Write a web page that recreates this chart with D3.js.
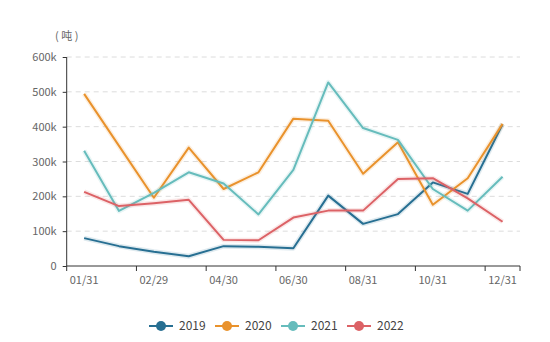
<!DOCTYPE html>
<html>
<head>
<meta charset="utf-8">
<script src="https://cdn.jsdelivr.net/npm/d3@7"></script>
<style>
  body { margin: 0; background: #fff; }
  text { font-family: "Noto Sans CJK SC", "Noto Sans", sans-serif; }
</style>
</head>
<body>
<div id="chart"></div>
<script>
const dates = ['01/31', '02/15', '02/29', '03/31', '04/30', '05/31', '06/30',
  '07/31', '08/31', '09/30', '10/31', '11/30', '12/31'];
const years = ['2019', '2020', '2021', '2022'];
const v2019 = [80, 57, 41, 28, 57, 55, 51, 202, 121, 149, 240, 207, 407];
const v2020 = [494, 345, 196, 340, 221, 269, 423, 417, 265, 355, 176, 252, 408];
const v2021 = [331, 158, 210, 269, 237, 148, 276, 527, 396, 362, 221, 159, 256];
const v2022 = [213, 172, 180, 190, 75, 74, 139, 159, 159, 250, 252, 194, 127];
const yTicks = [0, 100, 200, 300, 400, 500, 600];
const unitLabel = '( 吨 )';

const colors = ['#276f92', '#e9922c', '#66bcbc', '#dc6266'];
const series = [v2019, v2020, v2021, v2022];

const w = 550;
const h = 342;
const margin = { top: 57, right: 30, bottom: 76, left: 66.7 };
const graphWidth = w - margin.left - margin.right;
const graphHeight = h - margin.top - margin.bottom;

const svg = d3.select('#chart')
  .append('svg')
  .attr('width', w)
  .attr('height', h);

const graph = svg.append('g')
  .attr('transform', `translate(${margin.left}, ${margin.top})`);

// SCALES ----------------------

const xScale = d3.scaleBand()
  .domain(dates)
  .range([0, graphWidth]);

const yScale = d3.scaleLinear()
  .domain([0, 600])
  .range([graphHeight, 0]);

// GRID ------------------------

graph.append('g')
  .selectAll('line')
  .data(yTicks.filter(d => d > 0))
  .enter()
  .append('line')
  .attr('x1', 0)
  .attr('x2', graphWidth)
  .attr('y1', d => yScale(d))
  .attr('y2', d => yScale(d))
  .attr('stroke', '#dcdcdc')
  .attr('stroke-dasharray', '5,4');

// AXES ------------------------

const yAxis = d3.axisLeft(yScale)
  .tickValues(yTicks)
  .tickSize(4)
  .tickPadding(6)
  .tickFormat(d => (d === 0 ? '0' : d + 'k'));

const gYAxis = graph.append('g').call(yAxis);
gYAxis.select('.domain').attr('stroke', '#333').attr('d', `M0,${graphHeight}V0`);
gYAxis.selectAll('.tick line').attr('stroke', '#333');
gYAxis.selectAll('text').style('font-size', '11px').attr('fill', '#666');

const shown = dates.filter((d, i) => i % 2 === 0);
const gXAxis = graph.append('g')
  .attr('transform', `translate(0, ${graphHeight})`);

gXAxis.append('line')
  .attr('x1', 0)
  .attr('x2', graphWidth)
  .attr('stroke', '#333');

const tickPos = shown.map(d => xScale(d)).concat([graphWidth]);
gXAxis.selectAll('.xtick')
  .data(tickPos)
  .enter()
  .append('line')
  .attr('class', 'xtick')
  .attr('x1', d => d)
  .attr('x2', d => d)
  .attr('y1', 0)
  .attr('y2', 5)
  .attr('stroke', '#333');

gXAxis.selectAll('.xlabel')
  .data(shown)
  .enter()
  .append('text')
  .attr('class', 'xlabel')
  .attr('x', d => xScale(d) + xScale.bandwidth() / 2)
  .attr('y', 18)
  .attr('text-anchor', 'middle')
  .style('font-size', '11px')
  .attr('fill', '#666')
  .text(d => d);

// unit label
svg.append('text')
  .attr('x', margin.left)
  .attr('y', 40)
  .attr('text-anchor', 'middle')
  .style('font-size', '11px')
  .attr('fill', '#666')
  .text(unitLabel);

// LINES -----------------------

const line = d3.line()
  .x((d, i) => xScale(dates[i]) + xScale.bandwidth() / 2)
  .y(d => yScale(d));

series.forEach((s, k) => {
  graph.append('path')
    .datum(s)
    .attr('fill', 'none')
    .attr('stroke', colors[k])
    .attr('stroke-opacity', 0.15)
    .attr('stroke-width', 5)
    .attr('stroke-linejoin', 'round')
    .attr('d', line);
  graph.append('path')
    .datum(s)
    .attr('fill', 'none')
    .attr('stroke', colors[k])
    .attr('stroke-width', 2)
    .attr('stroke-linejoin', 'round')
    .attr('d', line);
});

// LEGEND ----------------------

const legendX = d3.scalePoint()
  .domain(years)
  .range([149, 347]);

const legend = svg.append('g')
  .attr('transform', 'translate(0, 326)');

const item = legend.selectAll('g')
  .data(years)
  .enter()
  .append('g')
  .attr('transform', d => `translate(${legendX(d)}, 0)`);

item.append('line')
  .attr('x1', 0)
  .attr('x2', 24)
  .attr('stroke', (d, i) => colors[i])
  .attr('stroke-width', 2);

item.append('circle')
  .attr('cx', 12)
  .attr('r', 5)
  .attr('fill', (d, i) => colors[i]);

item.append('text')
  .attr('x', 30)
  .attr('dy', '0.35em')
  .style('font-size', '12px')
  .attr('fill', '#444')
  .text(d => d);
</script>
</body>
</html>
